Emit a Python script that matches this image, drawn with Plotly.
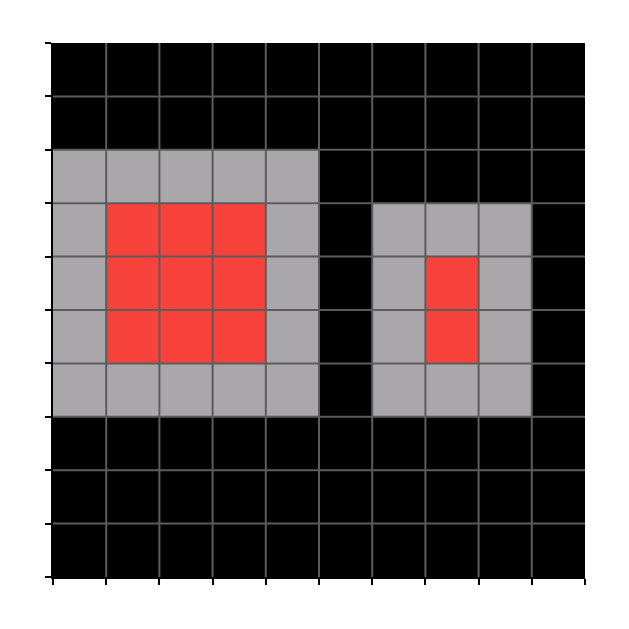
import plotly.graph_objects as go

# 0 = background (black), 1 = border (gray), 2 = core (red); rows listed top to bottom
grid_rows = [
    [0, 0, 0, 0, 0, 0, 0, 0, 0, 0],
    [0, 0, 0, 0, 0, 0, 0, 0, 0, 0],
    [1, 1, 1, 1, 1, 0, 0, 0, 0, 0],
    [1, 2, 2, 2, 1, 0, 1, 1, 1, 0],
    [1, 2, 2, 2, 1, 0, 1, 2, 1, 0],
    [1, 2, 2, 2, 1, 0, 1, 2, 1, 0],
    [1, 1, 1, 1, 1, 0, 1, 1, 1, 0],
    [0, 0, 0, 0, 0, 0, 0, 0, 0, 0],
    [0, 0, 0, 0, 0, 0, 0, 0, 0, 0],
    [0, 0, 0, 0, 0, 0, 0, 0, 0, 0],
]
n_rows = len(grid_rows)
n_cols = len(grid_rows[0])
col_centers = [c + 0.5 for c in range(n_cols)]
row_centers = [r + 0.5 for r in range(n_rows)]

BLACK = "#000000"
GRAY = "#a9a7a9"
RED = "#f8433d"
GRID = "#5c5c5c"

colorscale = [
    [0.0, BLACK], [1 / 3, BLACK],
    [1 / 3, GRAY], [2 / 3, GRAY],
    [2 / 3, RED], [1.0, RED],
]

fig = go.Figure(
    go.Heatmap(
        z=grid_rows,
        x=col_centers,
        y=row_centers,
        zmin=-0.5,
        zmax=2.5,
        colorscale=colorscale,
        showscale=False,
        hoverinfo="skip",
    )
)

shapes = []
for k in range(1, n_cols):
    shapes.append(dict(type="line", xref="x", yref="y", x0=k, x1=k, y0=0, y1=n_rows,
                       line=dict(color=GRID, width=2)))
for k in range(1, n_rows):
    shapes.append(dict(type="line", xref="x", yref="y", x0=0, x1=n_cols, y0=k, y1=k,
                       line=dict(color=GRID, width=2)))

axis_style = dict(
    showticklabels=False,
    ticks="outside",
    ticklen=6,
    tickwidth=2,
    tickcolor="black",
    showgrid=False,
    zeroline=False,
    showline=True,
    linecolor="black",
    linewidth=2,
    fixedrange=True,
)

fig.update_layout(
    width=629,
    height=629,
    margin=dict(l=53, r=44, t=43, b=52),
    paper_bgcolor="white",
    plot_bgcolor="black",
    shapes=shapes,
    xaxis=dict(range=[0, n_cols], tickvals=list(range(n_cols + 1)), **axis_style),
    yaxis=dict(range=[n_rows, 0], tickvals=list(range(n_rows + 1)), **axis_style),
)

fig.write_html("out.html")
